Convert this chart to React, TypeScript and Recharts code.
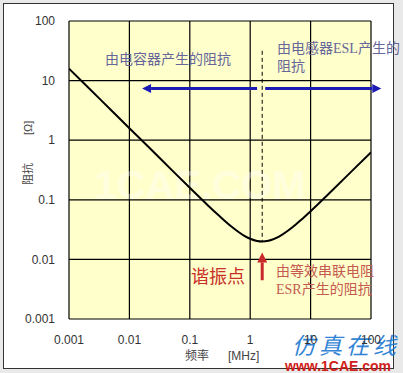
import {
  CartesianGrid,
  Customized,
  Line,
  LineChart,
  ReferenceLine,
  XAxis,
  YAxis,
} from 'recharts';

// frequency in MHz, impedance in ohm
const FREQ_MHZ = [0.001, 0.002, 0.005, 0.01, 0.02, 0.05, 0.1, 0.2, 0.3, 0.5, 0.65, 0.8, 1, 1.3, 1.58, 2, 3, 5, 7, 10, 20, 50, 100];
const IMPEDANCE = [15.9, 7.96, 3.18, 1.59, 0.8, 0.318, 0.159, 0.0805, 0.055, 0.035, 0.0286, 0.0249, 0.0222, 0.0204, 0.02, 0.0205, 0.0242, 0.0346, 0.0463, 0.0644, 0.1265, 0.315, 0.628];

const X_TICKS = [0.001, 0.01, 0.1, 1, 10, 100];
const Y_TICKS = [0.001, 0.01, 0.1, 1, 10, 100];
const X_TICK_LABELS = ['0.001', '0.01', '0.1', '1', '10', '100'];
const Y_TICK_LABELS = ['0.001', '0.01', '0.1', '1', '10', '100'];

const RESONANCE_MHZ = 1.58;
const ARROW_LEVEL = 7.35;

const data = FREQ_MHZ.map((f, i) => ({ f, z: IMPEDANCE[i] }));

const CJK = '"Liberation Serif", "Noto Sans CJK SC", serif';
const SANS = '"Liberation Sans", Arial, sans-serif';

const arrowShape = (color: string, width: number, head: number) => (p: any) => {
  const { x1, y1, x2, y2 } = p;
  const a = Math.atan2(y2 - y1, x2 - x1);
  const bx = x2 - head * Math.cos(a);
  const by = y2 - head * Math.sin(a);
  const nx = -Math.sin(a) * head * 0.5;
  const ny = Math.cos(a) * head * 0.5;
  return (
    <g>
      <line x1={x1} y1={y1} x2={bx} y2={by} stroke={color} strokeWidth={width} />
      <polygon points={`${x2},${y2} ${bx + nx},${by + ny} ${bx - nx},${by - ny}`} fill={color} />
    </g>
  );
};

function Annotations() {
  return (
    <g>
      <text x={200} y={199} textAnchor="middle" fontFamily={SANS} fontWeight="bold" fontSize={40} fill="#ffffff" opacity={0.35}>
        1CAE.COM
      </text>
      <text x={105} y={64} fontFamily={CJK} fontSize={14} fill="#66669a">由电容器产生的阻抗</text>
      <text x={277} y={53} fontFamily={CJK} fontSize={14} fill="#66669a">由电感器ESL产生的</text>
      <text x={277} y={71} fontFamily={CJK} fontSize={14} fill="#66669a">阻抗</text>
      <text x={191} y={283} fontFamily={CJK} fontSize={18} fill="#c8302a">谐振点</text>
      <text x={276} y={276} fontFamily={CJK} fontSize={14} fill="#c45a50">由等效串联电阻</text>
      <text x={276} y={294} fontFamily={CJK} fontSize={14} fill="#c45a50">ESR产生的阻抗</text>
      <text x={185} y={360} fontFamily={CJK} fontSize={12} fill="#444">频率</text>
      <text x={228} y={360} fontFamily={SANS} fontSize={12} fill="#444">[MHz]</text>
      <g transform="translate(32,149) rotate(-90)">
        <text x={-36} y={0} fontFamily={CJK} fontSize={11} fill="#444">阻抗</text>
        <text x={14} y={0} fontFamily={SANS} fontSize={11} fill="#444">[Ω]</text>
      </g>
      <text x={292} y={354} fontFamily={CJK} fontSize={23} fontStyle="italic" fill="#1e7ad2" letterSpacing={4} opacity={0.92}>仿真在线</text>
      <text x={285} y={371} fontFamily={SANS} fontWeight="bold" fontSize={14} fill="#d0201a">www.1CAE.com</text>
    </g>
  );
}

export default function App() {
  return (
    <div style={{ position: 'absolute', left: 0, top: 0, width: 403, height: 373, background: '#e9e9e9' }}>
      <div
        style={{
          position: 'absolute',
          left: 3,
          top: 3,
          width: 389,
          height: 364,
          background: '#ffffff',
          border: '1px solid #333',
        }}
      />
      <div style={{ position: 'absolute', left: 0, top: 0 }}>
        <LineChart width={403} height={373} data={data} margin={{ top: 21, right: 32, bottom: 24, left: 0 }}>
          <CartesianGrid stroke="#000" strokeWidth={1.2} fill="#ffffcc" fillOpacity={1} />
          <XAxis
            dataKey="f"
            type="number"
            scale="log"
            domain={[0.001, 100]}
            ticks={X_TICKS}
            tickFormatter={(v: number) => X_TICK_LABELS[X_TICKS.indexOf(v)] ?? String(v)}
            axisLine={false}
            tickLine={false}
            tickMargin={10}
            height={30}
            interval={0}
            allowDataOverflow
            tick={{ fontSize: 12, fill: '#333', fontFamily: SANS }}
          />
          <YAxis
            type="number"
            scale="log"
            domain={[0.001, 100]}
            ticks={Y_TICKS}
            tickFormatter={(v: number) => Y_TICK_LABELS[Y_TICKS.indexOf(v)] ?? String(v)}
            axisLine={false}
            tickLine={false}
            tickMargin={8}
            width={69}
            interval={0}
            allowDataOverflow
            tick={{ fontSize: 12, fill: '#333', fontFamily: SANS }}
          />
          <Line
            dataKey="z"
            type="monotone"
            stroke="#000"
            strokeWidth={2}
            dot={false}
            isAnimationActive={false}
          />
          <ReferenceLine
            segment={[{ x: RESONANCE_MHZ, y: 31.6 }, { x: RESONANCE_MHZ, y: 0.0195 }]}
            stroke="#000"
            strokeWidth={1}
            strokeDasharray="4 3"
            ifOverflow="visible"
          />
          <ReferenceLine
            segment={[{ x: 1.3, y: ARROW_LEVEL }, { x: 0.0162, y: ARROW_LEVEL }]}
            ifOverflow="visible"
            shape={arrowShape('#1c1cb4', 3, 9)}
          />
          <ReferenceLine
            segment={[{ x: 1.77, y: ARROW_LEVEL }, { x: 148, y: ARROW_LEVEL }]}
            ifOverflow="visible"
            shape={arrowShape('#1c1cb4', 3, 9)}
          />
          <ReferenceLine
            segment={[{ x: RESONANCE_MHZ, y: 0.00447 }, { x: RESONANCE_MHZ, y: 0.0131 }]}
            ifOverflow="visible"
            shape={arrowShape('#c8282a', 3, 10)}
          />
          <Customized component={<Annotations />} />
        </LineChart>
      </div>
    </div>
  );
}
